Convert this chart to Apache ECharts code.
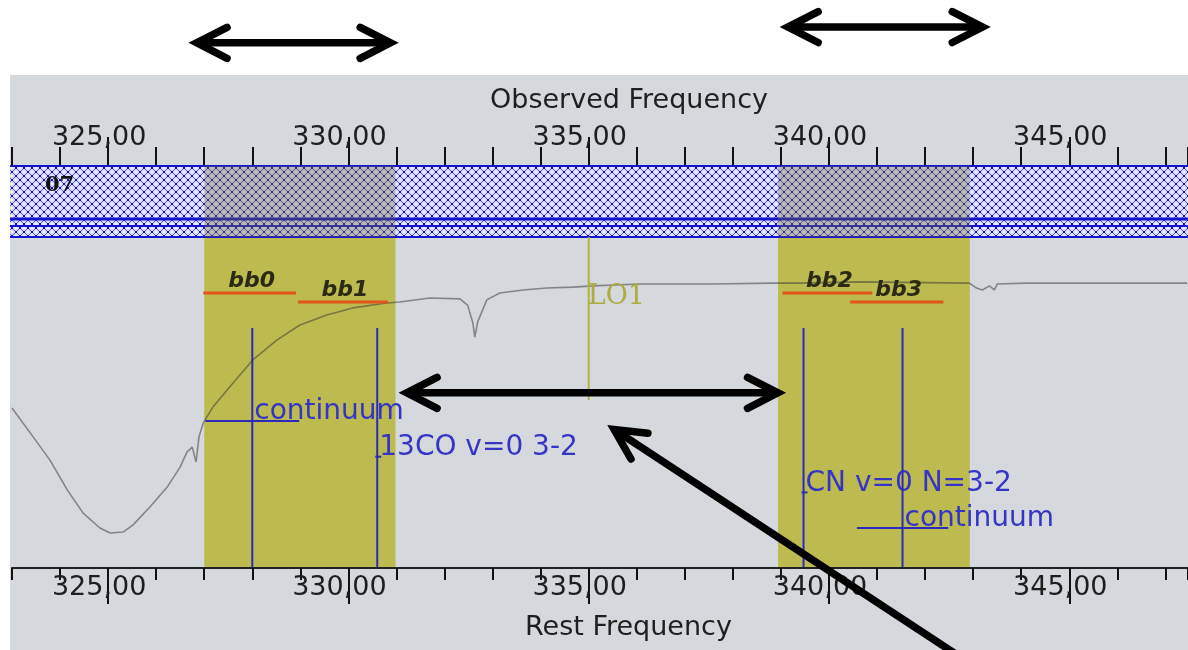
<!DOCTYPE html>
<html>
<head>
<meta charset="utf-8">
<script src="https://cdn.jsdelivr.net/npm/echarts@6/dist/echarts.min.js"></script>
<style>
  html, body { margin: 0; padding: 0; background: #ffffff; }
  #chart { width: 1188px; height: 650px; }
</style>
</head>
<body>
<div id="chart"></div>
<script>
// ---- frequency axis (GHz) ----
const freqMin = 323;
const freqMax = 347.47;
const majorTicks = [325, 330, 335, 340, 345];

// ---- atmospheric transmission (fraction) ----
const transFreq = [323.00, 323.44, 323.79, 324.15, 324.48, 324.83, 325.04, 325.31, 325.52, 325.87,
  326.23, 326.50, 326.64, 326.75, 326.83, 326.89, 326.98, 327.18, 327.60, 328.01,
  328.51, 328.99, 329.55, 330.09, 330.80, 331.07, 331.69, 332.32, 332.48, 332.59,
  332.63, 332.69, 332.88, 333.15, 333.63, 334.13, 334.67, 335.08, 336.06, 337.58,
  338.83, 339.39, 340.63, 342.92, 343.07, 343.19, 343.34, 343.44, 343.50, 344.11, 347.45];
const transValue = [0.516, 0.423, 0.348, 0.252, 0.177, 0.129, 0.113, 0.116, 0.139, 0.197,
  0.261, 0.326, 0.374, 0.390, 0.342, 0.423, 0.468, 0.519, 0.597, 0.671,
  0.735, 0.784, 0.816, 0.839, 0.855, 0.858, 0.871, 0.868, 0.848, 0.790,
  0.745, 0.794, 0.865, 0.887, 0.897, 0.903, 0.906, 0.910, 0.916, 0.916,
  0.919, 0.919, 0.923, 0.919, 0.903, 0.897, 0.910, 0.897, 0.916, 0.919, 0.919];

// ---- receiver band ----
const bandName = '07';
const bandRange = [275, 373];

// ---- sidebands and local oscillator ----
const sidebandLow = [327.0, 338.94];
const sidebandHigh = [330.98, 342.93];
const loName = 'LO1';
const loFreq = 335;

// ---- basebands ----
const bbNames = ['bb0', 'bb1', 'bb2', 'bb3'];
const bbLow = [326.98, 328.95, 339.03, 340.44];
const bbHigh = [328.91, 330.82, 340.90, 342.38];

// ---- spectral lines / continuum windows ----
const lineNames = ['continuum', '13CO v=0 3-2', 'CN v=0 N=3-2', 'continuum'];
const lineFreqs = [328.0, 330.6, 339.47, 341.53];
const lineSpans = [1.95, 0, 0, 1.9];

// ---- annotation arrows: start (freq, level), end (freq, level), heads at start / end ----
const arrowFrom = [[326.75, 1.694], [339.05, 1.745], [331.12, 0.565], [335.45, 0.455]];
const arrowTo = [[330.97, 1.694], [343.29, 1.745], [339.03, 0.565], [342.73, -0.287]];
const arrowHeads = [[1, 1], [1, 1], [1, 1], [1, 0]];

// ---- layout (pixels) ----
const FONT = '"DejaVu Sans", sans-serif';
const GRID = { left: 12, right: 0, top: 165, bottom: 82, outerBoundsMode: 'none', containLabel: false };
const BAND_H = 71;
const LINE_TOP = 163;
const LABEL_BASE = 256;
const LABEL_STEP = 35.7;
const BB_Y = 128;
const BB_STEP = 9;
const LO_LEN = 235;
const ARROW_W = 7.5;
const HEAD_LEN = 34;
const HEAD_ANGLE = 27 * Math.PI / 180;

function makeHatch() {
  const c = document.createElement('canvas');
  c.width = 8; c.height = 8;
  const g = c.getContext('2d');
  g.fillStyle = '#d9d9f8';
  g.fillRect(0, 0, 8, 8);
  g.fillStyle = '#f0f0ff';
  g.fillRect(3, 0, 2, 1); g.fillRect(3, 7, 2, 1);
  g.fillRect(0, 3, 1, 2); g.fillRect(7, 3, 1, 2);
  g.strokeStyle = '#5a5ae6';
  g.lineWidth = 1;
  g.beginPath();
  g.moveTo(0, 0); g.lineTo(8, 8);
  g.moveTo(8, 0); g.lineTo(0, 8);
  g.stroke();
  g.fillStyle = '#1212c0';
  g.fillRect(3, 3, 2, 2);
  g.fillRect(0, 0, 1, 1); g.fillRect(7, 0, 1, 1); g.fillRect(0, 7, 1, 1); g.fillRect(7, 7, 1, 1);
  return c;
}
const hatch = makeHatch();

function px(api, f) { return api.coord([f, 0])[0]; }

function renderBand(params, api) {
  const cs = params.coordSys;
  const x0 = Math.max(px(api, api.value(0)), 10);
  const x1 = Math.min(px(api, api.value(1)), 1188);
  const top = cs.y + 1;
  const bot = top + BAND_H;
  const blue = '#1616d2';
  return {
    type: 'group',
    children: [
      { type: 'rect', shape: { x: x0, y: top, width: x1 - x0, height: BAND_H },
        style: { fill: { image: hatch, repeat: 'repeat' } } },
      { type: 'line', shape: { x1: x0, y1: top, x2: x1, y2: top }, style: { stroke: blue, lineWidth: 2 } },
      { type: 'line', shape: { x1: x0, y1: top + 53, x2: x1, y2: top + 53 }, style: { stroke: blue, lineWidth: 3 } },
      { type: 'line', shape: { x1: x0, y1: top + 60, x2: x1, y2: top + 60 }, style: { stroke: blue, lineWidth: 2 } },
      { type: 'line', shape: { x1: x0, y1: bot, x2: x1, y2: bot }, style: { stroke: blue, lineWidth: 2 } },
      { type: 'text', style: { text: bandName, x: x0 + 35, y: top + 9, font: 'bold 21px "DejaVu Serif", serif',
        fill: '#111111', align: 'left', verticalAlign: 'top' } }
    ]
  };
}

function renderSideband(params, api) {
  const cs = params.coordSys;
  const x0 = px(api, api.value(0));
  const x1 = px(api, api.value(1));
  const top = cs.y + 1;
  const bot = top + BAND_H;
  return {
    type: 'group',
    children: [
      { type: 'rect', shape: { x: x0, y: top, width: x1 - x0, height: BAND_H },
        style: { fill: 'rgba(110,105,40,0.34)' } },
      { type: 'rect', shape: { x: x0, y: bot + 1, width: x1 - x0, height: cs.y + cs.height - bot - 1 },
        style: { fill: '#bdbb4f' } }
    ]
  };
}

function renderLO(params, api) {
  const cs = params.coordSys;
  const x = px(api, api.value(0));
  const top = cs.y + 1 + BAND_H;
  return {
    type: 'group',
    children: [
      { type: 'line', shape: { x1: x, y1: top, x2: x, y2: cs.y + LO_LEN }, style: { stroke: '#b4b23e', lineWidth: 2 } },
      { type: 'text', style: { text: loName, x: x - 1, y: cs.y + 118, font: '27px "DejaVu Serif", serif',
        fill: '#aeac3c', align: 'left', verticalAlign: 'top' } }
    ]
  };
}

function renderBaseband(params, api) {
  const cs = params.coordSys;
  const i = params.dataIndex;
  const x0 = px(api, api.value(0));
  const x1 = px(api, api.value(1));
  const y = cs.y + BB_Y + (i % 2) * BB_STEP;
  return {
    type: 'group',
    children: [
      { type: 'line', shape: { x1: x0, y1: y, x2: x1, y2: y }, style: { stroke: '#e2551a', lineWidth: 3 } },
      { type: 'text', style: { text: bbNames[i], x: (x0 + x1) / 2 + 2, y: y - 1,
        font: 'italic bold 22px ' + FONT, fill: '#2b2a14', align: 'center', verticalAlign: 'bottom' } }
    ]
  };
}

function renderSpectralLine(params, api) {
  const cs = params.coordSys;
  const i = params.dataIndex;
  const f = api.value(0);
  const span = api.value(1);
  const x = px(api, f);
  const base = cs.y + LABEL_BASE + i * LABEL_STEP;
  const blue = '#2a2abd';
  const children = [
    { type: 'line', shape: { x1: x, y1: cs.y + LINE_TOP, x2: x, y2: cs.y + cs.height }, style: { stroke: blue, lineWidth: 2 } }
  ];
  if (span > 0) {
    children.push({ type: 'line', shape: { x1: px(api, f - span / 2), y1: base, x2: px(api, f + span / 2), y2: base },
      style: { stroke: blue, lineWidth: 2 } });
  } else {
    children.push({ type: 'line', shape: { x1: x - 2, y1: base, x2: x + 4, y2: base }, style: { stroke: blue, lineWidth: 2 } });
  }
  children.push({ type: 'text', style: { text: lineNames[i], x: x + 2, y: base + 5, font: '28px ' + FONT,
    fill: '#3434c6', align: 'left', verticalAlign: 'bottom' } });
  return { type: 'group', children: children };
}

function renderArrow(params, api) {
  const p0 = api.coord([api.value(0), api.value(1)]);
  const p1 = api.coord([api.value(2), api.value(3)]);
  const h0 = api.value(4), h1 = api.value(5);
  const style = { stroke: '#000000', lineWidth: ARROW_W, lineCap: 'round', lineJoin: 'miter', fill: null };
  const dx = p1[0] - p0[0], dy = p1[1] - p0[1];
  const len = Math.sqrt(dx * dx + dy * dy);
  const ux = dx / len, uy = dy / len;
  // pull the head vertex back a little so the mitred point lands near the end value
  const inset = 0.55 * ARROW_W / (2 * Math.sin(HEAD_ANGLE));
  const t0 = h0 ? [p0[0] + ux * inset, p0[1] + uy * inset] : p0;
  const t1 = h1 ? [p1[0] - ux * inset, p1[1] - uy * inset] : p1;
  const children = [
    { type: 'line', shape: { x1: t0[0] + (h0 ? ux * 3 : 0), y1: t0[1] + (h0 ? uy * 3 : 0),
      x2: t1[0] - (h1 ? ux * 3 : 0), y2: t1[1] - (h1 ? uy * 3 : 0) },
      style: { stroke: '#000000', lineWidth: ARROW_W, lineCap: 'butt' } }
  ];
  function head(tip, dirx, diry) {
    const ang = Math.atan2(diry, dirx);
    const arm1 = [tip[0] + HEAD_LEN * Math.cos(ang + HEAD_ANGLE), tip[1] + HEAD_LEN * Math.sin(ang + HEAD_ANGLE)];
    const arm2 = [tip[0] + HEAD_LEN * Math.cos(ang - HEAD_ANGLE), tip[1] + HEAD_LEN * Math.sin(ang - HEAD_ANGLE)];
    children.push({ type: 'polyline', shape: { points: [arm1, tip, arm2] }, style: style });
  }
  if (h0) head(t0, ux, uy);
  if (h1) head(t1, -ux, -uy);
  return { type: 'group', children: children };
}

function fmtFreq(v) {
  return v.toFixed(2).replace('.', ',');
}

const labelStyle = {
  fontFamily: FONT, fontSize: 27, color: '#1e1e1e', lineHeight: 27, padding: [0, 18, 0, 0]
};
const tickStyle = { color: '#111111', width: 2 };

const option = {
  animation: false,
  backgroundColor: '#ffffff',
  graphic: [{
    type: 'rect', z: -10, silent: true,
    shape: { x: 10, y: 75, width: 1178, height: 575 },
    style: { fill: '#d5d8dc' }
  }],
  title: [
    { text: 'Observed Frequency', left: 490, top: 87, padding: 0,
      textStyle: { fontFamily: FONT, fontSize: 27, fontWeight: 'normal', color: '#1e1e1e', lineHeight: 27 } },
    { text: 'Rest Frequency', left: 525, top: 614, padding: 0,
      textStyle: { fontFamily: FONT, fontSize: 27, fontWeight: 'normal', color: '#1e1e1e', lineHeight: 27 } }
  ],
  // grid 0 carries the data; grid 1 sits on top of it and only draws the long major ticks
  grid: [Object.assign({}, GRID), Object.assign({}, GRID)],
  xAxis: [
    {
      type: 'value', gridIndex: 0, min: freqMin, max: freqMax, position: 'top', interval: 1, z: 5,
      splitLine: { show: false },
      axisLine: { show: false, onZero: false },
      axisTick: { show: true, length: 18, lineStyle: tickStyle },
      axisLabel: Object.assign({ show: true, margin: 14, customValues: majorTicks, formatter: fmtFreq }, labelStyle)
    },
    {
      type: 'value', gridIndex: 0, min: freqMin, max: freqMax, position: 'bottom', interval: 1, z: 5,
      splitLine: { show: false },
      axisLine: { show: true, onZero: false, lineStyle: { color: '#222222', width: 2 } },
      axisTick: { show: true, length: 12, lineStyle: tickStyle },
      axisLabel: Object.assign({ show: true, margin: 6, customValues: majorTicks, formatter: fmtFreq }, labelStyle)
    },
    {
      type: 'value', gridIndex: 1, min: freqMin, max: freqMax, position: 'top', interval: 1, z: 5,
      splitLine: { show: false },
      axisLine: { show: false, onZero: false },
      axisTick: { show: true, length: 28, customValues: majorTicks, lineStyle: tickStyle },
      axisLabel: { show: false }
    },
    {
      type: 'value', gridIndex: 1, min: freqMin, max: freqMax, position: 'bottom', interval: 1, z: 5,
      splitLine: { show: false },
      axisLine: { show: false, onZero: false },
      axisTick: { show: true, length: 36, customValues: majorTicks, lineStyle: tickStyle },
      axisLabel: { show: false }
    }
  ],
  yAxis: [
    { type: 'value', gridIndex: 0, min: 0, max: 1.3, show: false },
    { type: 'value', gridIndex: 1, min: 0, max: 1.3, show: false }
  ],
  series: [
    { type: 'custom', name: 'band', z: 1, clip: false, silent: true,
      xAxisIndex: 0, yAxisIndex: 0,
      renderItem: renderBand, encode: { x: [0, 1] },
      data: [[bandRange[0], bandRange[1]]] },
    { type: 'custom', name: 'sidebands', z: 2, silent: true,
      xAxisIndex: 0, yAxisIndex: 0,
      renderItem: renderSideband, encode: { x: [0, 1] },
      data: sidebandLow.map((lo, i) => [lo, sidebandHigh[i]]) },
    { type: 'line', name: 'transmission', z: 3, silent: true,
      xAxisIndex: 0, yAxisIndex: 0,
      showSymbol: false, symbol: 'none',
      lineStyle: { color: 'rgba(55,55,55,0.52)', width: 1.6 },
      data: transFreq.map((f, i) => [f, transValue[i]]) },
    { type: 'custom', name: 'lo', z: 4, silent: true,
      xAxisIndex: 0, yAxisIndex: 0,
      renderItem: renderLO, encode: { x: 0 }, data: [[loFreq]] },
    { type: 'custom', name: 'basebands', z: 4, silent: true,
      xAxisIndex: 0, yAxisIndex: 0,
      renderItem: renderBaseband, encode: { x: [0, 1] },
      data: bbLow.map((lo, i) => [lo, bbHigh[i]]) },
    { type: 'custom', name: 'lines', z: 5, silent: true, clip: false,
      xAxisIndex: 0, yAxisIndex: 0,
      renderItem: renderSpectralLine, encode: { x: 0 },
      data: lineFreqs.map((f, i) => [f, lineSpans[i]]) },
    { type: 'custom', name: 'arrows', z: 10, silent: true, clip: false,
      xAxisIndex: 0, yAxisIndex: 0,
      renderItem: renderArrow, encode: { x: [0, 2], y: [1, 3] },
      data: arrowFrom.map((p, i) => [p[0], p[1], arrowTo[i][0], arrowTo[i][1], arrowHeads[i][0], arrowHeads[i][1]]) }
  ]
};

const chart = echarts.init(document.getElementById('chart'), null, { renderer: 'canvas' });
chart.setOption(option);
</script>
</body>
</html>
